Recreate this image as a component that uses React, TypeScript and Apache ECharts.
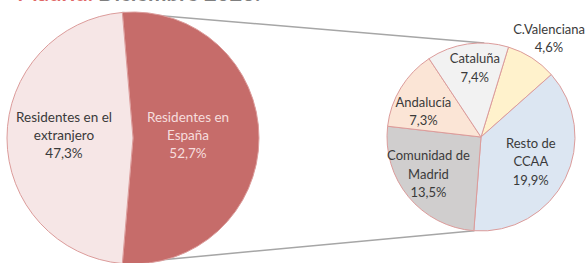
import React, { useEffect, useRef } from "react";
import * as echarts from "echarts";

// ---- data ----
const mainCategories = ["Residentes en el extranjero", "Residentes en España"];
const mainLabels = ["Residentes en el\nextranjero", "Residentes en\nEspaña"];
const mainValues = [47.3, 52.7];

const regionCategories = ["C.Valenciana", "Resto de CCAA", "Comunidad de Madrid", "Andalucía", "Cataluña"];
const regionLabels = ["C.Valenciana", "Resto de\nCCAA", "Comunidad de\nMadrid", "Andalucía", "Cataluña"];
const regionValues = [4.6, 19.9, 13.5, 7.3, 7.4];

const titleRed = "Madrid.";
const titleGray = "Diciembre 2023.";

// ---- styling ----
const mainColors = ["#f6e6e6", "#c66c6a"];
const regionColors = ["#fff2cc", "#dce6f2", "#d0cece", "#fbe5d6", "#f2f2f2"];
const borderColor = "#dc9c9b";
const FONT = "Lato";

// label fine offsets (px) from the library's inside position
const mainOffsets = [[-3, -3], [-11, -3]];
const regionOffsets = [[41, -57], [5, 2], [-14, 5], [-15, 0], [1, -20]];

const fmt = (v: number) => v.toFixed(1).replace(".", ",") + "%";

export default function App() {
  const ref = useRef<HTMLDivElement>(null);
  useEffect(() => {
    if (!ref.current) return;
    const chart = echarts.init(ref.current, null, { renderer: "svg" });

    const LC = [133, 138];
    const LR = 126;
    const RC = [481, 137];
    const RR = 94;
    const total = mainValues.reduce((a, b) => a + b, 0);
    const espDeg = (mainValues[1] / total) * 360;
    const mainStart = 90 + (espDeg - 180) / 2;

    const ptL = (deg: number) => [LC[0] + LR * Math.cos((deg * Math.PI) / 180), LC[1] - LR * Math.sin((deg * Math.PI) / 180)];
    const ptR = (deg: number) => [RC[0] + RR * Math.cos((deg * Math.PI) / 180), RC[1] - RR * Math.sin((deg * Math.PI) / 180)];
    const a1 = ptL(mainStart);
    const a2 = ptL(mainStart - espDeg);
    const b1 = ptR(88);
    const b2 = ptR(-94);

    chart.setOption({
      animation: false,
      backgroundColor: "#ffffff",
      graphic: [
        {
          type: "line",
          shape: { x1: a1[0], y1: a1[1], x2: b1[0], y2: b1[1] },
          style: { stroke: "#a6a6a6", lineWidth: 1.5 },
          z: 0,
        },
        {
          type: "line",
          shape: { x1: a2[0], y1: a2[1], x2: b2[0], y2: b2[1] },
          style: { stroke: "#a6a6a6", lineWidth: 1.5 },
          z: 0,
        },
        {
          type: "text",
          x: 93,
          y: 3,
          style: { text: titleRed, fill: "#e06666", font: `bold 22px ${FONT}`, textAlign: "right", textVerticalAlign: "bottom" },
        },
        {
          type: "text",
          x: 98,
          y: 3,
          style: { text: titleGray, fill: "#7f7f7f", font: `bold 22px ${FONT}`, textAlign: "left", textVerticalAlign: "bottom" },
        },
      ],
      series: [
        {
          type: "pie",
          center: LC,
          radius: LR,
          startAngle: mainStart,
          clockwise: true,
          data: [
            { name: mainCategories[1], value: mainValues[1], itemStyle: { color: mainColors[1] }, label: { color: "#f6dddd" } },
            { name: mainCategories[0], value: mainValues[0], itemStyle: { color: mainColors[0] }, label: { color: "#3a3a3a" } },
          ],
          itemStyle: { borderColor: borderColor, borderWidth: 1 },
          label: {
            show: true,
            position: "inside",
            fontFamily: FONT,
            fontSize: 13.5,
            lineHeight: 18,
            align: "center",
            formatter: (p: any) => {
              const i = mainCategories.indexOf(p.name);
              return mainLabels[i] + "\n" + fmt(p.value);
            },
          },
          labelLine: { show: false },
          labelLayout: (p: any) => {
            const i = 1 - p.dataIndex;
            return { dx: mainOffsets[i][0], dy: mainOffsets[i][1] };
          },
          emphasis: { disabled: true },
          z: 2,
        },
        {
          type: "pie",
          center: RC,
          radius: RR,
          startAngle: 73,
          clockwise: true,
          data: regionCategories.map((c, i) => ({ name: c, value: regionValues[i], itemStyle: { color: regionColors[i] } })),
          itemStyle: { borderColor: borderColor, borderWidth: 1 },
          label: {
            show: true,
            position: "inside",
            fontFamily: FONT,
            fontSize: 13,
            lineHeight: 18.5,
            color: "#3a3a3a",
            align: "center",
            formatter: (p: any) => regionLabels[p.dataIndex] + "\n" + fmt(p.value),
          },
          labelLine: { show: false },
          labelLayout: (p: any) => ({ dx: regionOffsets[p.dataIndex][0], dy: regionOffsets[p.dataIndex][1] }),
          emphasis: { disabled: true },
          z: 2,
        },
      ],
    });
    return () => chart.dispose();
  }, []);
  return <div ref={ref} style={{ position: "fixed", left: 0, top: 0, width: 588, height: 263 }} />;
}
